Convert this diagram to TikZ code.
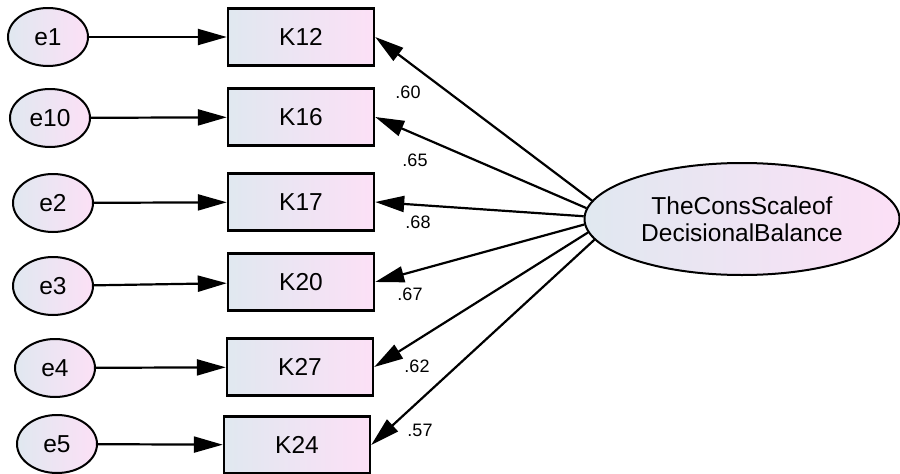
\documentclass[tikz,border=0pt]{standalone}
\usepackage{fontspec}
\setmainfont{Liberation Sans}
\usetikzlibrary{arrows.meta,shapes.geometric}
\definecolor{fillL}{RGB}{224,232,240}
\definecolor{fillR}{RGB}{252,224,246}
\tikzset{
  errnode/.style={ellipse,draw=black,line width=2pt,minimum width=80pt,minimum height=58pt,
    inner sep=0pt,left color=fillL,right color=fillR,font=\fontsize{24.5}{27}\selectfont},
  obsbox/.style={rectangle,draw=black,line width=2.4pt,minimum width=146pt,minimum height=57pt,
    inner sep=0pt,left color=fillL,right color=fillR,font=\fontsize{24.5}{27}\selectfont},
  latent/.style={ellipse,draw=black,line width=2pt,minimum width=315pt,minimum height=112pt,
    inner sep=0pt,left color=fillL,right color=fillR,align=center,
    font=\fontsize{24.5}{27}\selectfont},
  path/.style={line width=2.2pt,-{Triangle[length=29pt,width=16pt]}},
  weight/.style={font=\fontsize{18}{20}\selectfont,inner sep=0pt},
}
\begin{document}
\begin{tikzpicture}[x=1pt,y=-1pt]
\useasboundingbox (0,0) rectangle (900,474);

% error terms
\node[errnode] (e1)  at (48,37)  {e1};
\node[errnode] (e10) at (50,118) {e10};
\node[errnode] (e2)  at (53,203) {e2};
\node[errnode] (e3)  at (53,286) {e3};
\node[errnode] (e4)  at (55,368) {e4};
\node[errnode] (e5)  at (57,444) {e5};

% observed items
\node[obsbox] (K12) at (301,37)  {K12};
\node[obsbox] (K16) at (301,117) {K16};
\node[obsbox] (K17) at (301,202) {K17};
\node[obsbox] (K20) at (301,282) {K20};
\node[obsbox] (K27) at (300,367) {K27};
\node[obsbox] (K24) at (297,445) {K24};

% latent factor
\node[latent] (L) at (742,219) {TheConsScaleof\\DecisionalBalance};

% error paths
\draw[path] (e1)  -- (K12);
\draw[path] (e10) -- (K16);
\draw[path] (e2)  -- (K17);
\draw[path] (e3)  -- (K20);
\draw[path] (e4)  -- (K27);
\draw[path] (e5)  -- (K24);

% factor loadings
\draw[path] (L.173) -- (K12.east);
\draw[path] (L.176) -- (K16.east);
\draw[path] (L.179) -- (K17.east);
\draw[path] (L.182) -- (K20.east);
\draw[path] (L.185) -- (K27.east);
\draw[path] (L.188) -- (K24.east);

\node[weight] (w1) at (408,92)  {.60};
\node[weight] (w2) at (415,160) {.65};
\node[weight] (w3) at (418,222) {.68};
\node[weight] (w4) at (410,294) {.67};
\node[weight] (w5) at (417,366) {.62};
\node[weight] (w6) at (420,430) {.57};
\end{tikzpicture}
\end{document}
